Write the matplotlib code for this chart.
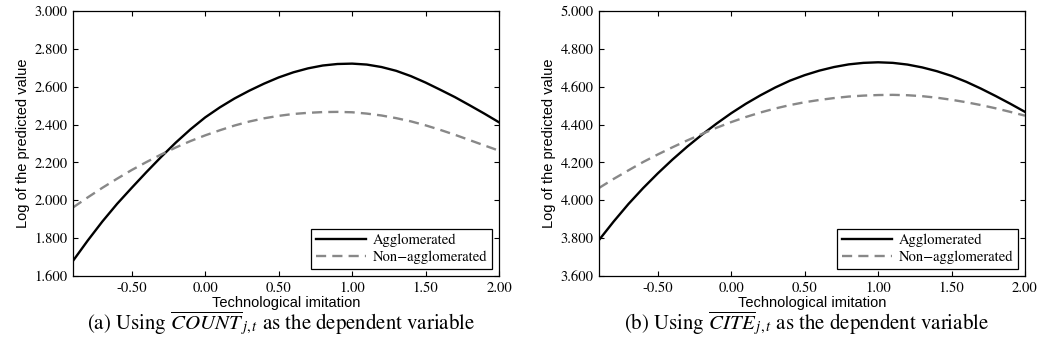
import matplotlib
matplotlib.use('Agg')
import matplotlib.pyplot as plt
from matplotlib.ticker import FormatStrFormatter

plt.rcParams['mathtext.fontset'] = 'stix'

# values, every 0.1 along the x axis
imitation = [-0.9, -0.8, -0.7, -0.6, -0.5, -0.4, -0.3, -0.2, -0.1, 0.0,
             0.1, 0.2, 0.3, 0.4, 0.5, 0.6, 0.7, 0.8, 0.9, 1.0,
             1.1, 1.2, 1.3, 1.4, 1.5, 1.6, 1.7, 1.8, 1.9, 2.0]
count_agg = [1.680, 1.787, 1.888, 1.981, 2.066, 2.149, 2.229, 2.305, 2.375, 2.438,
             2.491, 2.538, 2.579, 2.616, 2.649, 2.676, 2.697, 2.712, 2.720, 2.722,
             2.717, 2.704, 2.684, 2.656, 2.622, 2.584, 2.545, 2.502, 2.458, 2.412]
count_non = [1.962, 2.015, 2.066, 2.114, 2.160, 2.202, 2.242, 2.279, 2.313, 2.343,
             2.370, 2.395, 2.416, 2.433, 2.446, 2.456, 2.462, 2.466, 2.467, 2.465,
             2.458, 2.448, 2.434, 2.417, 2.396, 2.372, 2.346, 2.318, 2.290, 2.262]
cite_agg = [3.790, 3.888, 3.980, 4.064, 4.142, 4.215, 4.283, 4.346, 4.405, 4.460,
            4.510, 4.555, 4.596, 4.632, 4.661, 4.685, 4.704, 4.718, 4.726, 4.729,
            4.726, 4.717, 4.702, 4.682, 4.657, 4.626, 4.590, 4.551, 4.510, 4.467]
cite_non = [4.065, 4.113, 4.158, 4.202, 4.242, 4.280, 4.316, 4.350, 4.383, 4.413,
            4.440, 4.464, 4.485, 4.503, 4.518, 4.530, 4.540, 4.548, 4.553, 4.556,
            4.557, 4.555, 4.550, 4.542, 4.531, 4.518, 4.503, 4.486, 4.467, 4.447]

xticks = [-0.5, 0.0, 0.5, 1.0, 1.5, 2.0]
ylims = [(1.6, 3.0), (3.6, 5.0)]
captions = [r'(a) Using $\overline{COUNT}_{\,j,t}$ as the dependent variable',
            r'(b) Using $\overline{CITE}_{\,j,t}$ as the dependent variable']

serif = 'STIXGeneral'
sans = 'Liberation Sans'

fig = plt.figure(figsize=(10.38, 3.6), dpi=100)
lefts = [73 / 1038, 599 / 1038]
w = 426 / 1038
b = 1 - 276 / 360
h = 265 / 360

for i, (agg, non) in enumerate([(count_agg, count_non), (cite_agg, cite_non)]):
    ax = fig.add_axes([lefts[i], b, w, h])
    ax.plot(imitation, agg, color='black', lw=1.7, label='Agglomerated')
    ax.plot(imitation, non, color='#888888', lw=1.7, linestyle=(0, (4.3, 2.6)),
            label='Non\u2212agglomerated')
    ax.set_xlim(-0.9, 2.0)
    ax.set_ylim(*ylims[i])
    ax.set_xticks(xticks)
    ax.set_yticks([ylims[i][0] + 0.2 * k for k in range(8)])
    ax.xaxis.set_major_formatter(FormatStrFormatter('%.2f'))
    ax.yaxis.set_major_formatter(FormatStrFormatter('%.3f'))
    ax.tick_params(direction='in', top=True, right=True, length=3.5, width=0.8, pad=4)
    for lab in ax.get_xticklabels() + ax.get_yticklabels():
        lab.set_fontfamily(serif)
        lab.set_fontsize(10.5)
    for s in ax.spines.values():
        s.set_linewidth(0.9)
    ax.set_xlabel('Technological imitation', fontfamily=sans, fontsize=10.5, labelpad=1)
    ax.set_ylabel('Log of the predicted value', fontfamily=sans, fontsize=10.5, labelpad=3)
    leg = ax.legend(loc='lower right', prop={'family': serif, 'size': 10.5},
                    fancybox=False, framealpha=1, edgecolor='black',
                    handlelength=3.4, handletextpad=0.5, labelspacing=0.25,
                    borderaxespad=0.45, borderpad=0.35)
    leg.get_frame().set_linewidth(0.9)
    fig.text(lefts[i] + w / 2 - 0.005, 0.1, captions[i], ha='center', va='center',
             fontfamily=serif, fontsize=15)

fig.savefig('out.png', dpi=100)
